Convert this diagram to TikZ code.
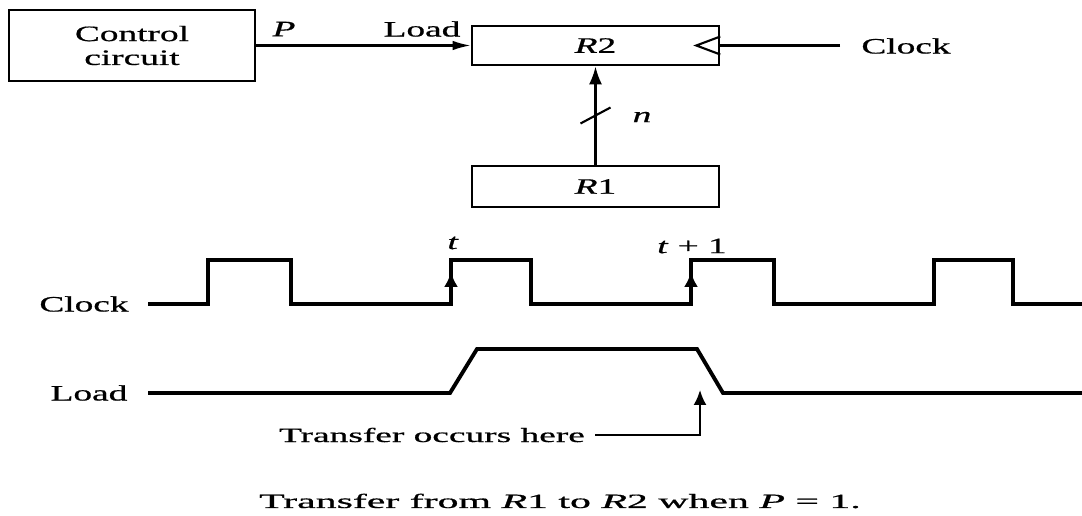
\documentclass[tikz,border=0pt]{standalone}
\usepackage{fontspec}
\setmainfont{Liberation Serif}[FakeBold=0.6]
\usepackage{tikz}
\usetikzlibrary{arrows.meta,calc,positioning}
\newcommand{\labfont}{\fontsize{12.5}{13.6}\selectfont}
\newcommand{\wide}[2][1.7]{\scalebox{#1}[1]{#2}}

\begin{document}
\begin{tikzpicture}[
    x=.02cm,y=-.02cm,
    blk/.style={draw,line width=1.5pt,minimum width=4.94cm,minimum height=.78cm,inner sep=0pt,font=\labfont},
    wire/.style={line width=1.2pt},
    sig/.style={wire,-{Latex[length=3.6mm,width=1.9mm]}},
    wave/.style={line width=2.2pt},
    lab/.style={font=\labfont,inner sep=0pt},
    captxt/.style={font=\fontsize{11.5}{13}\selectfont,inner sep=0pt}
  ]
    \useasboundingbox (0,0) rectangle (1082,516);
    % registers
    \node[blk,minimum width=4.92cm,minimum height=1.42cm,align=center] (ctrl) at (132,45.5) {\wide{Control}\\\wide{circuit}};
    \node[blk] (r2) at (595.5,45.5) {\wide{\textit{R}2}};
    \node[blk,minimum height=.82cm] (r1) at (595.5,186.5) {\wide{\textit{R}1}};
    \draw[sig] (ctrl) -- (r2);
    \node[lab] (p) at (284,29) {\wide{\textit{P}}}; \node[lab] (ld) at (422,29) {\wide{Load}};
    \coordinate (clkin) at (840,45.5);
    \draw[wire] (clkin) -- (r2.east);
    \draw[wire] ([yshift=.18cm]r2.east) -- ++(-24,9) -- ++(24,9);
    \node[lab] (clk) at (906,46) {\wide{Clock}};
    \draw[sig,line width=1.5pt,-{Latex[length=3.6mm,width=2.6mm]}] (r1) -- (r2);
    \draw[wire] ($(r1.north)!.5!(r2.south)$) ++(-15,8) -- ++(30,-16);
    \node[lab] (n) at (642,117) {\wide{\textit{n}}};
    % timing
    \node[lab] (clklab) at (84,304) {\wide{Clock}};
    \node[lab] (ldlab) at (89,393) {\wide{Load}};
    \draw[wave] (148,304) -| (208,260) -| (291,304) -| (451,260) -| (531,304) -| (691,260) -| (774,304) -| (934,260) -| (1013,304) -- (1082,304);
    \draw[wave] (148,393) -- (450,393) -- (477,349) -- (697,349) -- (723,393) -- (1082,393);
    \foreach \x in {451,691} {\draw[wire,line width=1.5pt,-{Latex[length=3mm,width=2.8mm]}] (\x,296) -- (\x,272);}
    \node[lab] (t) at (453,243) {\wide{\textit{t}}};
    \node[lab] (t1) at (692,246) {\wide{\textit{t} + 1}};
    \coordinate (xferpt) at (700,390);
    \node[captxt] (xfer) at (432,435) {\wide[1.85]{Transfer occurs here}};
    \draw[wire,-{Latex[length=3mm,width=2.6mm]}] ([xshift=.2cm]xfer.east) -| (xferpt);
    \node[captxt] (caption) at (560,501) {\wide[2.07]{Transfer from \textit{R}1 to \textit{R}2 when \textit{P} = 1.}};
\end{tikzpicture}
\end{document}
